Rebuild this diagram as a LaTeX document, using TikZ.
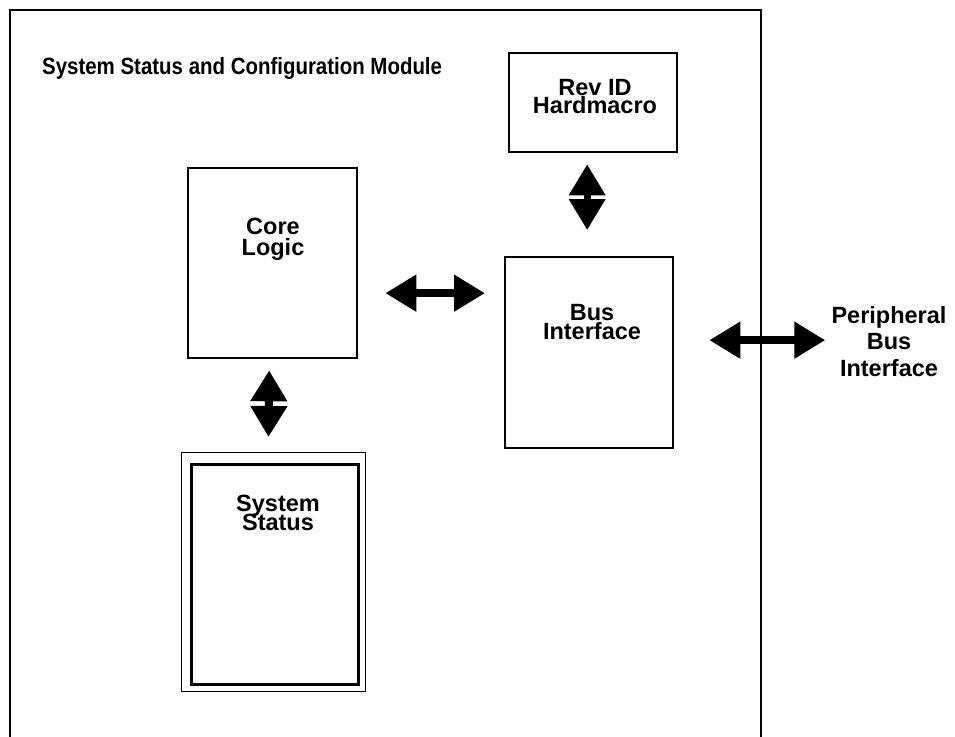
\documentclass[tikz,border=0pt]{standalone}
\usepackage{fontspec}
\setmainfont{Liberation Sans}
\usetikzlibrary{arrows.meta}
\AtBeginDocument{\setlength{\lineskiplimit}{-50pt}}
\tikzset{
  box/.style={draw,line width=2.3pt,inner sep=0pt,anchor=north west},
  lbl/.style={inner sep=0pt,anchor=north,align=center,font=\fontsize{23.5}{#1}\selectfont\bfseries},
  fat/.style={line width=8pt,{Triangle[length=31pt,width=35pt]}-{Triangle[length=31pt,width=35pt]}}
}
\begin{document}
\begin{tikzpicture}[x=1pt,y=-1pt]
\useasboundingbox (0,0) rectangle (955,736);
\fill[white] (0,0) rectangle (955,736);
% module frame
\draw[line width=2.5pt] (10,10) rectangle (761,745);
\node[inner sep=0pt,anchor=base west,font=\fontsize{23.5}{23.5}\selectfont\bfseries] (title) at (42,74) {\scalebox{0.87}[1]{System Status and Configuration Module}};
% boxes
\node[box,minimum width=169pt,minimum height=190pt] (core) at (187,167) {};
\node[box,minimum width=168pt,minimum height=99pt] (rev) at (508,52) {};
\node[box,minimum width=168pt,minimum height=191pt] (bus) at (504,256) {};
\node[box,line width=1pt,minimum width=184pt,minimum height=239pt] (ssout) at (181,452) {};
\node[box,line width=3pt,minimum width=167pt,minimum height=220pt] (ssin) at (190,463) {};
% labels
\node[lbl=18pt] (revlbl) at (595,79) {Rev ID\\Hardmacro};
\node[lbl=21pt] (corelbl) at (273,217.5) {Core\\Logic};
\node[lbl=19.5pt] (buslbl) at (592,304) {Bus\\Interface};
\node[lbl=19pt] (sslbl) at (278,495) {System\\Status};
\node[lbl=26.5pt] (pblbl) at (889,306) {Peripheral\\Bus\\Interface};
% connectors
\path (core.east) ++(27,30) coordinate (cb1);
\path (bus.west) ++(-19,-59.5) coordinate (cb2);
\draw[fat] (cb1) -- (cb2);
\path (bus.east) ++(35,-12.5) coordinate (pe1);
\path (bus.east) ++(151,-12.5) coordinate (pe2);
\draw[fat] (pe1) -- (pe2);
\path (rev.south) ++(-6,11) coordinate (rb1);
\path (bus.north) ++(-2,-26) coordinate (rb2);
\draw[fat,line width=7pt] (rb1) -- (rb2);
\path (core.south) ++(-3.5,11) coordinate (cs1);
\path (ssout.north) ++(-5,-15) coordinate (cs2);
\draw[fat] (cs1) -- (cs2);
\end{tikzpicture}
\end{document}
